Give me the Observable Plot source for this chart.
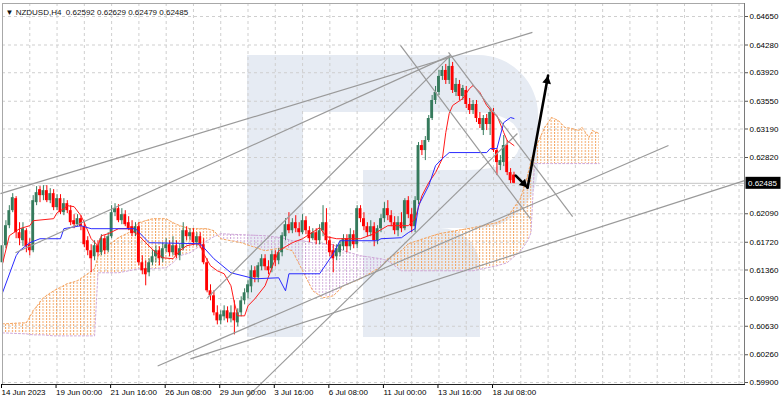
<!DOCTYPE html>
<html>
<head>
<meta charset="utf-8">
<script src="https://cdn.jsdelivr.net/npm/d3@7"></script>
<script src="https://cdn.jsdelivr.net/npm/@observablehq/plot@0.6"></script>
<style>
  html, body { margin: 0; padding: 0; background: #ffffff; }
  #chart svg { display: block; }
</style>
</head>
<body>
<svg width="0" height="0" style="position:absolute">
  <defs>
    <pattern id="dotOrange" patternUnits="userSpaceOnUse" x="1.6" y="0" width="3.41" height="3">
      <rect x="0" y="0" width="1" height="2" fill="#f4a460"></rect>
    </pattern>
    <pattern id="dotThistle" patternUnits="userSpaceOnUse" x="1.6" y="0" width="3.41" height="3">
      <rect x="0" y="0" width="1" height="2" fill="#cfa8d8"></rect>
    </pattern>
  </defs>
</svg>
<div id="chart"></div>
<script>
// ---------- DATA ----------
const symbolName = "NZDUSD,H4";

const opens = [0.61454,0.61675,0.61935,0.62130,0.62286,0.61844,0.61740,0.61870,0.61688,0.61610,
0.62234,0.62403,0.62325,0.62390,0.62260,0.62351,0.62169,0.62286,0.62104,0.62221,
0.62130,0.62000,0.61948,0.62026,0.61922,0.61740,0.61610,0.61532,0.61675,0.61584,
0.61766,0.61610,0.61792,0.62104,0.62156,0.62000,0.62078,0.61974,0.61922,0.61831,
0.61922,0.61454,0.61376,0.61324,0.61454,0.61532,0.61610,0.61506,0.61636,0.61688,
0.61584,0.61675,0.61545,0.61636,0.61870,0.61792,0.61844,0.61714,0.61792,0.61688,
0.61454,0.61090,0.61025,0.60804,0.60700,0.60752,0.60830,0.60726,0.60804,0.60674,
0.60804,0.60960,0.61064,0.61142,0.61350,0.61259,0.61402,0.61506,0.61402,0.61376,
0.61558,0.61480,0.61584,0.61792,0.61948,0.61870,0.61974,0.61896,0.61844,0.62000,
0.61870,0.61766,0.61844,0.61740,0.61870,0.61974,0.61740,0.61610,0.61532,0.61584,
0.61662,0.61766,0.61662,0.61818,0.61688,0.62156,0.62026,0.61922,0.61844,0.61922,
0.61740,0.61896,0.62026,0.62156,0.62065,0.61974,0.61870,0.61974,0.61896,0.62260,
0.62078,0.61922,0.62260,0.62975,0.62910,0.63040,0.63326,0.63560,0.63664,0.63872,
0.63950,0.63820,0.64002,0.63664,0.63768,0.63612,0.63690,0.63508,0.63430,0.63508,
0.63326,0.63170,0.63326,0.63248,0.63404,0.62910,0.62715,0.62754,0.62975,0.62624,
0.62592];

const highs = [0.61740,0.62000,0.62195,0.62351,0.62312,0.61974,0.61974,0.61896,0.61766,0.62325,
0.62442,0.62442,0.62455,0.62455,0.62416,0.62403,0.62338,0.62338,0.62286,0.62260,
0.62195,0.62078,0.62078,0.62065,0.61974,0.61792,0.61688,0.61740,0.61740,0.61818,
0.61805,0.61844,0.62195,0.62221,0.62208,0.62156,0.62130,0.62052,0.62000,0.61974,
0.61974,0.61545,0.61480,0.61506,0.61610,0.61675,0.61662,0.61714,0.61766,0.61740,
0.61792,0.61740,0.61688,0.61974,0.61922,0.61896,0.61896,0.61844,0.61844,0.61766,
0.61506,0.61168,0.61090,0.60895,0.60830,0.60895,0.60882,0.60895,0.60960,0.60856,
0.61012,0.61116,0.61220,0.61415,0.61402,0.61454,0.61558,0.61558,0.61480,0.61610,
0.61610,0.61636,0.61844,0.62026,0.62104,0.62026,0.62065,0.61974,0.62078,0.62052,
0.61922,0.61896,0.61896,0.61948,0.62195,0.62156,0.61792,0.61688,0.61688,0.61740,
0.61818,0.61818,0.61896,0.61870,0.62195,0.62195,0.62104,0.61974,0.62000,0.61974,
0.61935,0.62078,0.62234,0.62260,0.62130,0.62052,0.62052,0.62104,0.62286,0.62312,
0.62156,0.62312,0.63014,0.63040,0.63092,0.63365,0.63625,0.63742,0.63950,0.64002,
0.64028,0.64119,0.64054,0.63846,0.63820,0.63755,0.63742,0.63586,0.63560,0.63560,
0.63404,0.63365,0.63378,0.63456,0.63456,0.62936,0.62845,0.63105,0.63040,0.62676,
0.62629];

const lows = [0.61376,0.61636,0.61896,0.62104,0.61766,0.61675,0.61662,0.61584,0.61545,0.61584,
0.62195,0.62234,0.62260,0.62234,0.62221,0.62130,0.62130,0.62078,0.62065,0.62091,
0.61935,0.61896,0.61922,0.61870,0.61649,0.61545,0.61324,0.61480,0.61532,0.61545,
0.61558,0.61584,0.61766,0.62052,0.61974,0.61948,0.61922,0.61870,0.61792,0.61792,
0.61415,0.61298,0.61155,0.61272,0.61415,0.61454,0.61415,0.61454,0.61584,0.61532,
0.61545,0.61506,0.61480,0.61610,0.61740,0.61740,0.61675,0.61662,0.61636,0.61428,
0.61064,0.60960,0.60765,0.60648,0.60648,0.60700,0.60674,0.60674,0.60518,0.60622,
0.60752,0.60908,0.60986,0.61064,0.61194,0.61194,0.61350,0.61350,0.61298,0.61324,
0.61402,0.61428,0.61532,0.61740,0.61831,0.61831,0.61844,0.61792,0.61818,0.61818,
0.61714,0.61740,0.61688,0.61688,0.61792,0.61688,0.61532,0.61324,0.61480,0.61532,
0.61610,0.61584,0.61610,0.61636,0.61636,0.61974,0.61870,0.61792,0.61792,0.61662,
0.61688,0.61844,0.61974,0.62000,0.61922,0.61818,0.61792,0.61844,0.61870,0.62026,
0.61844,0.61844,0.62208,0.62845,0.62780,0.63014,0.63300,0.63508,0.63625,0.63820,
0.63768,0.63768,0.63651,0.63612,0.63560,0.63560,0.63456,0.63378,0.63378,0.63274,
0.63196,0.63105,0.63170,0.63105,0.62884,0.62585,0.62650,0.62702,0.62585,0.62481,
0.62479];

const closes = [0.61675,0.61935,0.62130,0.62299,0.61844,0.61766,0.61896,0.61662,0.61610,0.62260,
0.62364,0.62325,0.62390,0.62260,0.62351,0.62169,0.62286,0.62104,0.62221,0.62130,
0.61974,0.61948,0.62026,0.61922,0.61688,0.61610,0.61506,0.61675,0.61584,0.61766,
0.61610,0.61792,0.62104,0.62156,0.62000,0.62078,0.61948,0.61896,0.61831,0.61922,
0.61454,0.61350,0.61298,0.61454,0.61532,0.61610,0.61506,0.61636,0.61688,0.61584,
0.61675,0.61545,0.61636,0.61870,0.61792,0.61844,0.61714,0.61792,0.61688,0.61454,
0.61090,0.61025,0.60804,0.60700,0.60778,0.60830,0.60726,0.60804,0.60700,0.60804,
0.60960,0.61064,0.61168,0.61350,0.61259,0.61415,0.61506,0.61402,0.61350,0.61558,
0.61480,0.61584,0.61805,0.61948,0.61870,0.61974,0.61896,0.61844,0.62000,0.61870,
0.61766,0.61844,0.61740,0.61870,0.61974,0.61740,0.61584,0.61506,0.61636,0.61688,
0.61766,0.61662,0.61818,0.61688,0.62156,0.62026,0.61922,0.61844,0.61922,0.61740,
0.61896,0.62026,0.62156,0.62065,0.61974,0.61870,0.61974,0.61896,0.62260,0.62078,
0.61922,0.62260,0.62975,0.62910,0.63040,0.63326,0.63560,0.63664,0.63872,0.63950,
0.63820,0.64002,0.63690,0.63768,0.63612,0.63716,0.63508,0.63430,0.63508,0.63326,
0.63248,0.63326,0.63248,0.63404,0.62910,0.62754,0.62780,0.62975,0.62624,0.62520,
0.62485];

// Ichimoku Tenkan-sen (red) and Kijun-sen (blue), read at bar indices
const tenkanIdx = [0,2,5,8,9,15,16,18,19,21,23,24,26,28,29,31,34,37,38,40,42,45,47,50,52,54,57,58,59,61,63,65,67,68,69,71,72,74,77,79,81,85,88,93,95,98,105,109,113,119,121,123,125,127,129,130,131,132,135,137,138,140,142,144,145,147,148,150];
const tenkanVal = [0.61441,0.61805,0.61896,0.61935,0.62000,0.62026,0.62104,0.62156,0.62195,0.62182,0.62065,0.61974,0.61766,0.61675,0.61805,0.61831,0.61896,0.61896,0.61870,0.61805,0.61714,0.61584,0.61519,0.61506,0.61610,0.61675,0.61701,0.61675,0.61571,0.61415,0.61350,0.61311,0.61155,0.60934,0.60765,0.60765,0.60895,0.60986,0.61155,0.61389,0.61610,0.61714,0.61766,0.61909,0.61792,0.61766,0.61766,0.61831,0.61935,0.61935,0.62026,0.62325,0.62494,0.62624,0.62806,0.63144,0.63391,0.63495,0.63586,0.63716,0.63755,0.63664,0.63495,0.63391,0.63365,0.63144,0.63040,0.62975];

const kijunIdx = [0,4,5,8,11,17,18,23,26,39,43,58,62,67,74,81,83,84,93,97,99,110,111,117,119,121,122,125,127,129,131,142,143,145,147,149,150];
const kijunVal = [0.61064,0.61545,0.61610,0.61714,0.61766,0.61766,0.61896,0.61935,0.61896,0.61896,0.61714,0.61701,0.61506,0.61324,0.61246,0.61259,0.61090,0.61311,0.61311,0.61571,0.61740,0.61740,0.61766,0.61779,0.61844,0.61896,0.62195,0.62455,0.62715,0.62806,0.62884,0.62884,0.62936,0.62936,0.63274,0.63339,0.63326];

// Senkou span A / B (cloud), shifted 26 bars ahead
const cloudIdx = [0,7,9,12,15,19,22,25,27,28,30,34,37,40,44,48,50,52,55,58,60,62,64,70,77,82,85,88,91,94,97,100,105,111,113,117,119,128,138,145,148,152,154,155,156,159,161,163,165,167,169,170,172,173,175];
const spanA = [0.60661,0.60674,0.60830,0.60999,0.61090,0.61181,0.61220,0.61311,0.61376,0.61532,0.61649,0.61779,0.61844,0.61974,0.62026,0.62026,0.61974,0.61935,0.61896,0.61896,0.61896,0.61870,0.61766,0.61714,0.61610,0.61649,0.61610,0.61350,0.61090,0.60999,0.61025,0.61155,0.61246,0.61402,0.61506,0.61610,0.61701,0.61831,0.61909,0.61974,0.62039,0.62299,0.62585,0.62780,0.62910,0.63209,0.63339,0.63300,0.63209,0.63196,0.63170,0.63209,0.63079,0.63170,0.63131];
const spanB = [0.60544,0.60531,0.60518,0.60518,0.60505,0.60505,0.60505,0.60505,0.60505,0.61324,0.61324,0.61324,0.61350,0.61376,0.61376,0.61389,0.61454,0.61545,0.61584,0.61675,0.61740,0.61792,0.61831,0.61818,0.61805,0.61779,0.61740,0.61740,0.61714,0.61701,0.61688,0.61610,0.61545,0.61506,0.61480,0.61350,0.61350,0.61350,0.61350,0.61415,0.61454,0.61610,0.61740,0.61844,0.62741,0.62741,0.62741,0.62741,0.62741,0.62741,0.62741,0.62741,0.62741,0.62741,0.62741];

// Drawn trend lines: [bar1, price1, bar2, price2]
const trendLines = [
  [-0.6, 0.62351, 155.4, 0.64444],
  [3.8, 0.61584, 131.4, 0.64145],
  [60.1, 0.60999, 131.4, 0.64145],
  [130.8, 0.64184, 167.2, 0.62052],
  [116.7, 0.64275, 154.8, 0.62026],
  [71.8, 0.59712, 151.0, 0.63131],
  [45.5, 0.60115, 195.3, 0.62975],
  [55.1, 0.60206, 217.6, 0.62520]
];

// Forecast arrow path
const forecastIdx = [150.5, 154, 160];
const forecastPrice = [0.62585, 0.62429, 0.63885];

// Axes
const priceTicks = [0.64650,0.64280,0.63920,0.63550,0.63190,0.62820,0.62455,0.62090,0.61720,0.61360,0.60990,0.60630,0.60260,0.59900];
const priceLabelTicks = [0.64650,0.64280,0.63920,0.63550,0.63190,0.62820,0.62090,0.61720,0.61360,0.60990,0.60630,0.60260,0.59900];
const timeTickIdx = [0,16,32,48,64,80,96,112,128,144];
const timeTickLabels = ["14 Jun 2023","19 Jun 00:00","21 Jun 16:00","26 Jun 08:00","29 Jun 00:00","3 Jul 16:00","6 Jul 08:00","11 Jul 00:00","13 Jul 16:00","18 Jul 08:00"];
const gridIdx = d3.range(0, 217, 8);

// ---------- BUILD ----------
const W = 782, H = 402;
const ML = 2, MR = 38, MT = 3, MB = 18;
const xMax = 217.6;
const yDomain = [0.59900, 0.64650];
const yRange = [382, 16];
const pxPerBar = (W - MR - ML) / xMax;
const pxPerPrice = (yRange[0] - yRange[1]) / (yDomain[1] - yDomain[0]);

const GREEN = "#357a5c", RED = "#ff0000";
const bw = 0.42;

const bars = opens.map((o, i) => ({i, o, h: highs[i], l: lows[i], c: closes[i]}));
const bull = bars.filter(d => d.c >= d.o);
const bear = bars.filter(d => d.c < d.o);

const tenkan = tenkanIdx.map((x, k) => ({x, y: tenkanVal[k]}));
const kijun = kijunIdx.map((x, k) => ({x, y: kijunVal[k]}));

const cloud = cloudIdx.map((x, k) => ({x, a: spanA[k], b: spanB[k]}));
const cloudBull = [], cloudBear = [];
for (let k = 0; k < cloud.length - 1; k++) {
  const p = cloud[k], q = cloud[k + 1];
  const target = (p.a + q.a) >= (p.b + q.b) ? cloudBull : cloudBear;
  target.push({...p, k}, {...q, k});
}

const links = trendLines.map(([x1, y1, x2, y2]) => ({x1, y1, x2, y2}));
const fcSegs = [];
for (let k = 0; k < forecastIdx.length - 1; k++) {
  fcSegs.push({x1: forecastIdx[k], y1: forecastPrice[k], x2: forecastIdx[k + 1], y2: forecastPrice[k + 1]});
}
function headMark(s) {
  const dxp = (s.x2 - s.x1) * pxPerBar;
  const dyp = -(s.y2 - s.y1) * pxPerPrice;
  const len = Math.hypot(dxp, dyp);
  const ux = dxp / len, uy = dyp / len;
  const rot = Math.atan2(dxp, -dyp) * 180 / Math.PI;
  return Plot.dot([s], {x: "x2", y: "y2", symbol: "triangle2", r: 4.2, fill: "#000", stroke: "none",
    rotate: rot, dx: -5.5 * ux, dy: -5.5 * uy});
}

const last = bars[bars.length - 1];
const titleText = "\u25BC " + symbolName + "\u00A0\u00A0" + [last.o, last.h, last.l, last.c].map(v => v.toFixed(5)).join(" ");

const plot = Plot.plot({
  width: W, height: H,
  marginLeft: ML, marginRight: MR, marginTop: MT, marginBottom: MB,
  x: {domain: [0, xMax]},
  y: {domain: yDomain, range: yRange},
  style: {fontFamily: "'Liberation Sans', Arial, sans-serif", fontSize: "8px", background: "#ffffff", color: "#000", overflow: "visible"},
  marks: [
    Plot.ruleX(gridIdx, {stroke: "#cfcfcf", strokeDasharray: "3,3"}),
    Plot.ruleY(priceTicks, {stroke: "#cfcfcf", strokeDasharray: "3,3"}),
    Plot.areaY(cloudBull, {x: "x", y1: "a", y2: "b", z: "k", fill: "url(#dotOrange)"}),
    Plot.areaY(cloudBear, {x: "x", y1: "a", y2: "b", z: "k", fill: "url(#dotThistle)"}),
    Plot.line(cloud, {x: "x", y: "a", stroke: "#f4a460", strokeWidth: 1, strokeDasharray: "2,2"}),
    Plot.line(cloud, {x: "x", y: "b", stroke: "#cfa8d8", strokeWidth: 1, strokeDasharray: "2,2"}),
    Plot.ruleY([last.c], {stroke: "#c4c4c4"}),
    Plot.ruleX(bull, {x: "i", y1: "l", y2: "h", stroke: GREEN}),
    Plot.ruleX(bear, {x: "i", y1: "l", y2: "h", stroke: RED}),
    Plot.rect(bull, {x1: d => d.i - bw, x2: d => d.i + bw, y1: "o", y2: "c", fill: GREEN}),
    Plot.rect(bear, {x1: d => d.i - bw, x2: d => d.i + bw, y1: "o", y2: "c", fill: RED}),
    Plot.line(tenkan, {x: "x", y: "y", stroke: "#ff1a1a", strokeWidth: 1}),
    Plot.line(kijun, {x: "x", y: "y", stroke: "#2a2aff", strokeWidth: 1}),
    Plot.link(links, {x1: "x1", y1: "y1", x2: "x2", y2: "y2", stroke: "#9a9a9a", strokeWidth: 1.2}),
    Plot.link(fcSegs, {x1: "x1", y1: "y1", x2: "x2", y2: "y2", stroke: "#000", strokeWidth: 2.6, strokeLinecap: "round"}),
    ...fcSegs.map(headMark),
    Plot.frame({stroke: "#a8a8a8"}),
    Plot.axisY(priceLabelTicks, {anchor: "right", tickSize: 3, tickPadding: 2, tickFormat: d => d.toFixed(5), label: null, stroke: "#555"}),
    Plot.axisX(timeTickIdx, {anchor: "bottom", tickSize: 4, tickPadding: 1, textAnchor: "start", dx: -1,
      tickFormat: d => timeTickLabels[timeTickIdx.indexOf(d)], label: null}),
    Plot.text([titleText], {frameAnchor: "top-left", text: d => d, dx: 3, dy: 6, textAnchor: "start", fill: "#111"})
  ]
});

document.getElementById("chart").appendChild(plot);

// ---------- DECORATIONS ----------
const svg = d3.select(plot);
// watermark logo behind everything
const wm = svg.insert("g", "g").attr("fill", "#e6ebf3");
wm.append("rect").attr("x", 247).attr("y", 55).attr("width", 56).attr("height", 282);
wm.append("path").attr("d", "M303,55H478A60,60 0 0 1 538,115V168A60,60 0 0 1 478,228H363V170H468Q520,170 520,141Q520,112 468,112H303Z");
wm.append("path").attr("d", "M363,228H440A40,40 0 0 1 480,268V337H363Z");

// axis borders
const xs = plot.scale("x"), ys = plot.scale("y");
const xR = xs.apply(xMax), xL = xs.apply(0);
svg.append("line").attr("x1", xR + 0.5).attr("x2", xR + 0.5).attr("y1", MT).attr("y2", H - MB)
  .attr("stroke", "#7a7a7a").attr("stroke-width", 1);
svg.append("line").attr("x1", xL).attr("x2", xR + 1).attr("y1", H - MB + 0.5).attr("y2", H - MB + 0.5)
  .attr("stroke", "#222").attr("stroke-width", 1);

// current price label
const yp = ys.apply(last.c);
svg.append("rect").attr("x", xR + 1.5).attr("y", yp - 6).attr("width", 35).attr("height", 12).attr("fill", "#000");
svg.append("text").attr("x", xR + 4).attr("y", yp).attr("dy", "0.35em").attr("fill", "#fff")
  .attr("text-anchor", "start").attr("font-size", "8px").text(last.c.toFixed(5));
</script>
</body>
</html>
